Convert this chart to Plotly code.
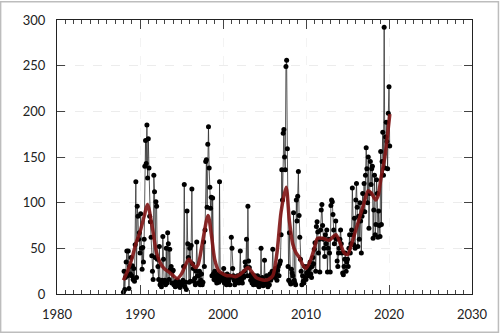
import plotly.graph_objects as go

# Monthly observations, one list per calendar year (Jan..Dec)
y1988 = [2, 25, 5, 18, 35, 47, 20, 47, 6, 30, 22, 40]
y1989 = [20, 31, 16, 28, 14, 54, 123, 18, 96, 85, 60, 67]
y1990 = [45, 88, 50, 27, 51, 35, 60, 140, 168, 143, 185, 127]
y1991 = [170, 138, 85, 79, 62, 42, 25, 16, 130, 112, 40, 101]
y1992 = [96, 38, 30, 16, 52, 10, 13, 8, 15, 63, 38, 12]
y1993 = [15, 10, 50, 12, 67, 55, 16, 49, 27, 30, 12, 25]
y1994 = [26, 10, 12, 8, 14, 10, 15, 9, 12, 13, 7, 11]
y1995 = [12, 10, 15, 30, 120, 8, 13, 5, 91, 55, 40, 13]
y1996 = [50, 14, 53, 115, 33, 28, 14, 17, 10, 25, 57, 20]
y1997 = [12, 20, 25, 10, 15, 22, 10, 13, 57, 30, 70, 145]
y1998 = [147, 95, 164, 183, 138, 117, 94, 106, 20, 105, 22, 16]
y1999 = [25, 15, 20, 12, 17, 22, 13, 123, 18, 20, 15, 22]
y2000 = [18, 28, 12, 20, 15, 10, 22, 17, 14, 20, 10, 18]
y2001 = [62, 50, 28, 20, 15, 10, 12, 18, 13, 20, 16, 12]
y2002 = [18, 47, 22, 15, 12, 20, 18, 25, 35, 30, 60, 20]
y2003 = [96, 36, 29, 20, 15, 22, 12, 18, 10, 15, 20, 12]
y2004 = [15, 10, 20, 13, 8, 17, 10, 50, 12, 18, 9, 15]
y2005 = [37, 10, 14, 20, 12, 8, 16, 10, 22, 15, 18, 25]
y2006 = [49, 20, 25, 18, 28, 22, 15, 26, 30, 20, 33, 36]
y2007 = [65, 136, 103, 176, 180, 150, 136, 249, 256, 159, 30, 15]
y2008 = [67, 13, 11, 27, 23, 20, 89, 15, 12, 10, 103, 80]
y2009 = [107, 134, 86, 62, 38, 25, 10, 20, 14, 12, 30, 18]
y2010 = [16, 23, 30, 25, 20, 28, 35, 22, 18, 30, 40, 33]
y2011 = [49, 56, 25, 74, 79, 68, 45, 60, 24, 70, 92, 98]
y2012 = [75, 60, 50, 41, 65, 55, 70, 24, 50, 60, 45, 24]
y2013 = [97, 103, 101, 87, 70, 55, 62, 80, 60, 36, 30, 45]
y2014 = [50, 60, 70, 55, 45, 23, 21, 30, 38, 45, 25, 35]
y2015 = [38, 30, 50, 65, 45, 55, 70, 116, 65, 54, 83, 50]
y2016 = [103, 121, 95, 52, 85, 60, 100, 80, 45, 85, 110, 90]
y2017 = [121, 90, 130, 160, 137, 100, 150, 72, 110, 145, 120, 137]
y2018 = [140, 61, 92, 130, 65, 76, 125, 110, 62, 91, 75, 63]
y2019 = [156, 76, 145, 177, 130, 292, 138, 172, 188, 167, 137, 198]
y2020 = [227, 162]

# Smoothed trend, knots (decimal year, level)
trend_year = [1988.0, 1988.5, 1989.0, 1989.5, 1990.0, 1990.5, 1990.9, 1991.5, 1992.0,
              1992.5, 1993.0, 1993.5, 1994.0, 1994.5, 1995.0, 1995.5, 1995.9, 1996.3,
              1996.7, 1997.0, 1997.5, 1998.2, 1998.6, 1999.0, 1999.5, 2000.0, 2000.5,
              2001.0, 2001.5, 2002.0, 2002.5, 2003.0, 2003.5, 2004.0, 2004.5, 2005.0,
              2005.5, 2006.0, 2006.5, 2007.0, 2007.6, 2008.0, 2008.4, 2008.8, 2009.2,
              2009.6, 2010.0, 2010.5, 2011.0, 2011.4, 2012.0, 2012.8, 2013.6, 2014.1,
              2014.6, 2015.0, 2015.5, 2016.0, 2016.5, 2017.0, 2017.5, 2017.9, 2018.4,
              2018.7, 2019.0, 2019.5, 2019.8, 2020.1]
trend_value = [15, 25, 38, 55, 68, 85, 98, 72, 45,
               33, 27, 24, 20, 17, 22, 32, 38, 33,
               29, 32, 55, 86, 65, 38, 25, 22, 20,
               20, 19, 21, 25, 29, 24, 18, 16, 15,
               16, 20, 45, 90, 117, 80, 55, 45, 40,
               32, 28, 36, 50, 61, 61, 59, 65, 56,
               45, 43, 55, 70, 85, 100, 113, 110, 103,
               108, 125, 150, 172, 197]

years = list(range(1988, 2021))
yearly = [y1988, y1989, y1990, y1991, y1992, y1993, y1994, y1995, y1996, y1997,
          y1998, y1999, y2000, y2001, y2002, y2003, y2004, y2005, y2006, y2007,
          y2008, y2009, y2010, y2011, y2012, y2013, y2014, y2015, y2016, y2017,
          y2018, y2019, y2020]

xs, ys = [], []
for yr, vals in zip(years, yearly):
    for m, v in enumerate(vals):
        xs.append(yr + m / 12)
        ys.append(v)

fig = go.Figure()
fig.add_trace(go.Scatter(
    x=xs, y=ys, mode="lines+markers",
    line=dict(color="rgba(40,40,40,0.85)", width=0.9),
    marker=dict(color="#000000", size=5),
    showlegend=False, hoverinfo="skip",
))
fig.add_trace(go.Scatter(
    x=trend_year, y=trend_value, mode="lines",
    line=dict(color="rgba(128,20,20,0.9)", width=3.5, shape="spline", smoothing=0.8),
    showlegend=False, hoverinfo="skip",
))

L, R, T, B = 57, 27, 19, 39
pw, ph = 500 - L - R, 334 - T - B

axis_common = dict(
    showline=True, linecolor="#222222", linewidth=1, mirror="ticks",
    ticks="inside", tickcolor="#444444",
    showgrid=True, griddash="dash", gridwidth=1,
    zeroline=False,
    tickfont=dict(family="Lato", size=13, color="#222222"),
)

fig.update_xaxes(
    range=[1980, 2030], tickmode="linear", tick0=1980, dtick=10,
    ticklen=9, ticklabelstandoff=8, gridcolor="#f3f3f3",
    minor=dict(dtick=1, tick0=1980, ticks="inside", ticklen=4, tickcolor="#444444", showgrid=False),
    **axis_common,
)
fig.update_yaxes(
    range=[0, 300], tickmode="linear", tick0=0, dtick=50,
    ticklen=8, ticklabelstandoff=8, gridcolor="#ececec",
    **axis_common,
)

# thin grey frame around the whole figure
fig.add_shape(
    type="rect", xref="paper", yref="paper",
    x0=-(L - 0.5) / pw, x1=1 + (R - 0.5) / pw,
    y0=-(B - 0.5) / ph, y1=1 + (T - 0.5) / ph,
    line=dict(color="#bdbdbd", width=1.5), fillcolor="rgba(0,0,0,0)",
)

fig.update_layout(
    width=500, height=334,
    margin=dict(l=L, r=R, t=T, b=B),
    paper_bgcolor="white", plot_bgcolor="white",
    font=dict(family="Lato", size=13, color="#222222"),
)

fig.write_html("out.html")
